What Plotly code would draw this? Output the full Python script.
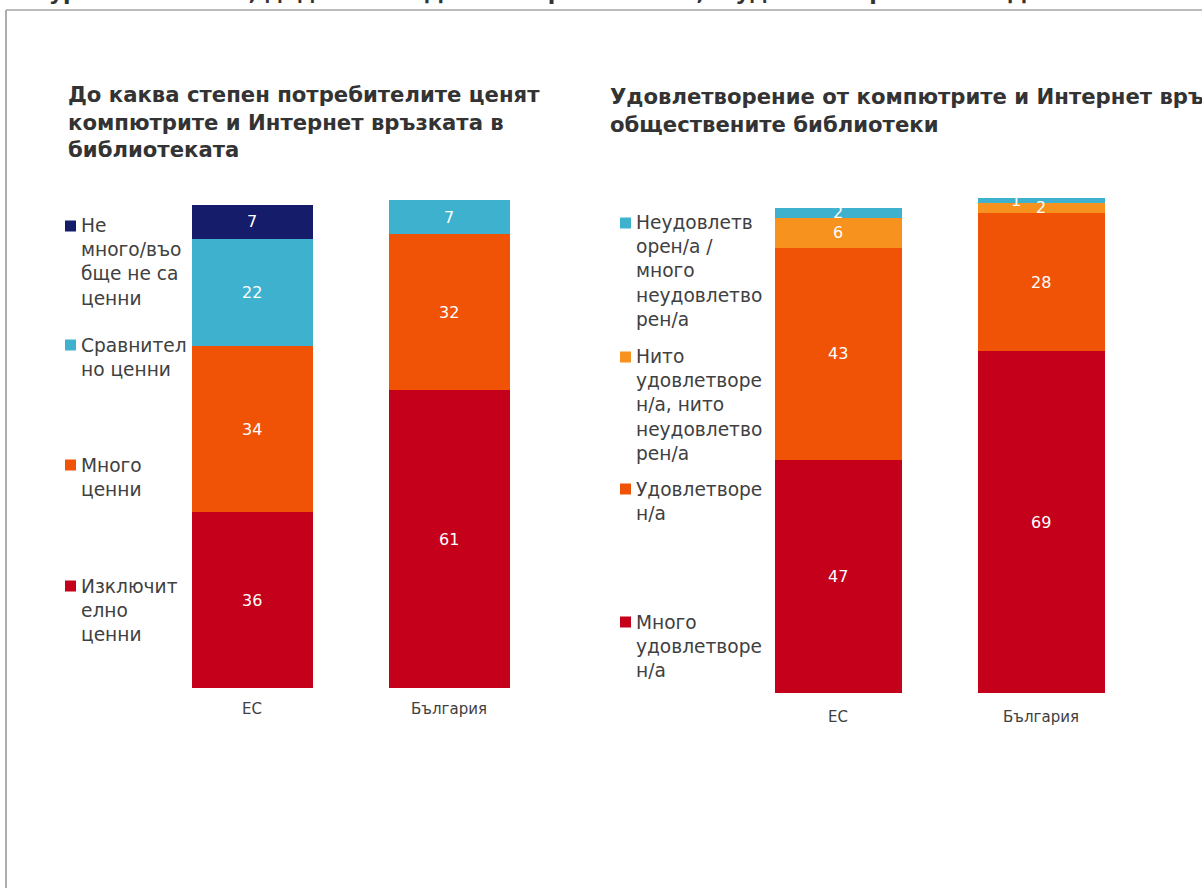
import plotly.graph_objects as go

W, H = 1202, 888

# ---- data -------------------------------------------------------------
categories = ["ЕС", "България"]

# Left panel: value of computers and Internet in the library
value_series = ["Изключително ценни", "Много ценни", "Сравнително ценни", "Не много/въобще не са ценни"]
value_legend = ["Изключит<br>елно<br>ценни", "Много<br>ценни", "Сравнител<br>но ценни", "Не<br>много/въо<br>бще не са<br>ценни"]
value_extremely = [36, 61]
value_very = [34, 32]
value_fairly = [22, 7]
value_not = [7, 0]

# Right panel: satisfaction with computers and Internet in public libraries
sat_series = ["Много удовлетворен/а", "Удовлетворен/а", "Нито удовлетворен/а, нито неудовлетворен/а", "Неудовлетворен/а / много неудовлетворен/а"]
sat_legend = ["Много<br>удовлетворе<br>н/а", "Удовлетворе<br>н/а", "Нито<br>удовлетворе<br>н/а, нито<br>неудовлетво<br>рен/а", "Неудовлетв<br>орен/а /<br>много<br>неудовлетво<br>рен/а"]
sat_very = [47, 69]
sat_satisfied = [43, 28]
sat_neutral = [6, 2]
sat_dissatisfied = [2, 1]

figure_title = "Фигура 5: Стойност, дадена на ОДК от потребителите, и удовлетворение от ОДК"
left_title = "До каква степен потребителите ценят<br>компютрите и Интернет връзката в<br>библиотеката"
right_title = "Удовлетворение от компютрите и Интернет връзката в<br>обществените библиотеки"

# ---- style ------------------------------------------------------------
RED = "#C4001A"
ORANGE = "#F05305"
LIGHT_ORANGE = "#F7921E"
CYAN = "#3EB1CE"
NAVY = "#151C6A"
FONT = "DejaVu Sans"
TEXT = "#404040"

value_colors = [RED, ORANGE, CYAN, NAVY]
sat_colors = [RED, ORANGE, LIGHT_ORANGE, CYAN]


def fx(px):
    return px / W


def fy(py):
    return 1 - py / H


fig = go.Figure()

left_values = [value_extremely, value_very, value_fairly, value_not]
right_values = [sat_very, sat_satisfied, sat_neutral, sat_dissatisfied]

for name, vals, col in zip(value_series, left_values, value_colors):
    fig.add_trace(go.Bar(x=categories, y=[v if v else None for v in vals], name=name,
                         marker=dict(color=col, line=dict(width=0)), width=0.614,
                         xaxis="x", yaxis="y", showlegend=False, hoverinfo="name+y"))

for name, vals, col in zip(sat_series, right_values, sat_colors):
    fig.add_trace(go.Bar(x=categories, y=[v if v else None for v in vals], name=name,
                         marker=dict(color=col, line=dict(width=0)), width=0.626,
                         xaxis="x2", yaxis="y2", showlegend=False, hoverinfo="name+y"))

annotations = []

# segment value labels, placed at the middle of each stacked segment
label_nudge = {("y2", 3, 1): -25}


def add_value_labels(series_values, xref, yref):
    base = [0] * len(categories)
    for s, vals in enumerate(series_values):
        for i, v in enumerate(vals):
            if v:
                annotations.append(dict(
                    x=categories[i], y=base[i] + v / 2, xref=xref, yref=yref,
                    text=str(v), showarrow=False,
                    xshift=label_nudge.get((yref, s, i), 0),
                    font=dict(family=FONT, size=16, color="white")))
            base[i] += v


add_value_labels(left_values, "x", "y")
add_value_labels(right_values, "x2", "y2")

# legend blocks drawn as text with square markers
shapes = []


def add_legend(labels, colors, first_line_y, marker_x, text_x, size=18.6, spacing=24.2):
    for lab, col, y0 in zip(labels, colors, first_line_y):
        n = lab.count("<br>") + 1
        yc = y0 + (n - 1) * spacing / 2
        annotations.append(dict(
            x=fx(text_x), y=fy(yc), xref="paper", yref="paper",
            xanchor="left", yanchor="middle", align="left", showarrow=False,
            text=lab, font=dict(family=FONT, size=size, color=TEXT)))
        shapes.append(dict(type="rect", xref="paper", yref="paper",
                           x0=fx(marker_x), x1=fx(marker_x + 11),
                           y0=fy(y0 + 5.5), y1=fy(y0 - 5.5),
                           fillcolor=col, line=dict(width=0)))


# legends list the top segment first
add_legend(value_legend[::-1], value_colors[::-1], [226, 345, 465, 586], 65, 79)
add_legend(sat_legend[::-1], sat_colors[::-1], [223, 357, 489, 622], 620, 634)

# panel titles
annotations.append(dict(x=fx(66), y=fy(80), xref="paper", yref="paper",
                        xanchor="left", yanchor="top", align="left", showarrow=False,
                        text="<b>" + left_title + "</b>",
                        font=dict(family=FONT, size=21.2, color="#333333")))
annotations.append(dict(x=fx(608), y=fy(82), xref="paper", yref="paper",
                        xanchor="left", yanchor="top", align="left", showarrow=False,
                        text="<b>" + right_title + "</b>",
                        font=dict(family=FONT, size=21.2, color="#333333")))
# figure caption running off the top edge
annotations.append(dict(x=fx(-2), y=fy(-7), xref="paper", yref="paper",
                        xanchor="left", yanchor="middle", align="left", showarrow=False,
                        text="<b>" + figure_title + "</b>",
                        font=dict(family=FONT, size=22, color="#333333")))

# frame around the chart area
shapes.append(dict(type="line", xref="paper", yref="paper",
                   x0=fx(6), x1=fx(6), y0=fy(10), y1=fy(H + 20),
                   line=dict(color="#A6A6A6", width=1.8)))
shapes.append(dict(type="line", xref="paper", yref="paper",
                   x0=fx(6), x1=fx(W + 20), y0=fy(10), y1=fy(10),
                   line=dict(color="#A6A6A6", width=1.5)))

axis_common = dict(showgrid=False, zeroline=False, showline=False, ticks="",
                   tickfont=dict(family=FONT, size=15, color=TEXT), fixedrange=True)
yaxis_common = dict(showgrid=False, zeroline=False, showline=False,
                    showticklabels=False, range=[0, 100], fixedrange=True)

fig.update_layout(
    width=W, height=H,
    margin=dict(l=0, r=0, t=0, b=0),
    paper_bgcolor="white", plot_bgcolor="white",
    barmode="stack", bargap=0,
    xaxis=dict(domain=[fx(153.5), fx(547.5)], range=[-0.5, 1.5], anchor="y",
               ticklabelstandoff=10, **axis_common),
    yaxis=dict(domain=[fy(688), fy(200)], anchor="x", **yaxis_common),
    xaxis2=dict(domain=[fx(736.5), fx(1142.5)], range=[-0.5, 1.5], anchor="y2",
                ticklabelstandoff=13, **axis_common),
    yaxis2=dict(domain=[fy(693), fy(198)], anchor="x2", **yaxis_common),
    annotations=annotations,
    shapes=shapes,
    showlegend=False,
)

fig.write_html("out.html")
